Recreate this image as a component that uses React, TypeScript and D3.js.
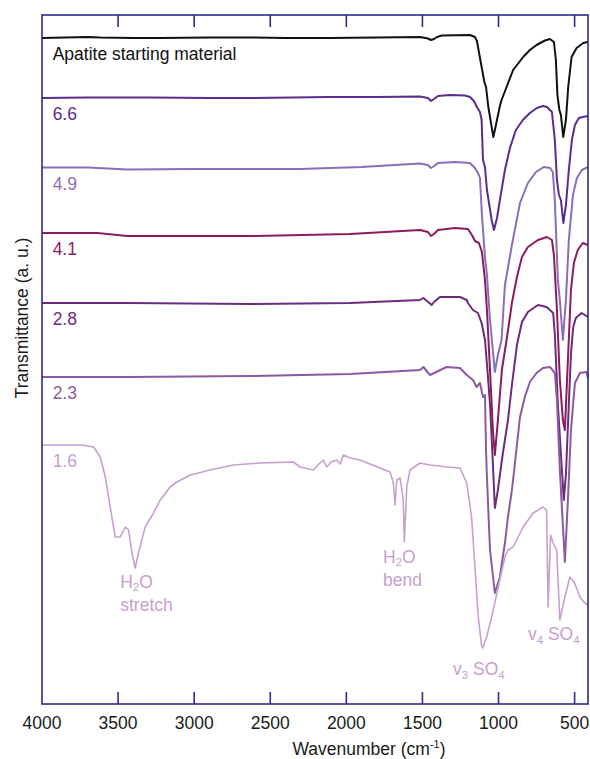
import * as d3 from 'd3';

// wavenumber (cm-1), transmittance (a.u., stacked)
const apatite: [number, number][] = [
  [4000, 666], [3850, 666.5], [3700, 667], [3617, 666.5], [3400, 666], [3223, 666], [2900, 666.5],
  [2632, 666.5], [2400, 666], [2107, 666], [1800, 666.5], [1516, 667], [1464, 665.5], [1444, 664],
  [1424, 665], [1404, 667], [1372, 668.5], [1188, 669], [1155, 667], [1142, 663], [1111, 637],
  [1093, 622], [1082, 617], [1067, 597], [1045, 577], [1034, 567], [1017, 579], [991, 598],
  [980, 604], [947, 617], [904, 634], [838, 647], [794, 654], [750, 659], [695, 663.5], [662, 665],
  [636, 662], [623, 644], [613, 609], [600, 594], [590, 589], [575, 567], [557, 584], [542, 617],
  [520, 647], [487, 656], [443, 661], [413, 662],
];

const ph66: [number, number][] = [
  [4000, 606], [3700, 606.5], [3289, 606.5], [2900, 606], [2632, 606], [2107, 607], [1800, 607],
  [1516, 607.5], [1464, 606], [1444, 603], [1424, 605], [1398, 608], [1319, 609], [1221, 608.5],
  [1188, 607], [1162, 603], [1142, 597], [1122, 592], [1111, 584], [1102, 544], [1089, 537],
  [1076, 514], [1045, 484], [1030, 474], [1010, 486], [991, 504], [958, 534], [925, 556],
  [886, 574], [840, 584], [794, 591], [748, 596], [708, 598], [682, 597], [649, 592], [630, 564],
  [616, 524], [603, 509], [590, 504], [574, 481], [557, 499], [538, 534], [518, 564], [498, 579],
  [472, 586], [446, 587], [413, 588],
];

const ph49: [number, number][] = [
  [4000, 536.5], [3700, 536.5], [3440, 534.5], [3000, 535], [2304, 535], [1900, 537], [1516, 540.5],
  [1464, 539], [1444, 536], [1424, 538], [1398, 541], [1286, 542], [1188, 541], [1155, 536],
  [1135, 531], [1122, 526], [1109, 489], [1089, 447], [1076, 429], [1056, 384], [1024, 332],
  [1004, 349], [980, 364], [958, 419], [912, 459], [859, 501], [807, 521], [754, 532], [702, 537],
  [662, 536], [643, 532], [630, 504], [610, 424], [597, 404], [577, 364], [557, 404], [538, 464],
  [511, 509], [485, 526], [452, 534], [413, 537],
];

const ph41: [number, number][] = [
  [4000, 471], [3637, 471], [3440, 468], [2632, 468], [1976, 470], [1516, 474], [1464, 472],
  [1444, 468], [1424, 470], [1398, 474], [1286, 476], [1201, 475], [1175, 469], [1155, 463],
  [1129, 461], [1109, 452], [1089, 424], [1076, 394], [1056, 334], [1037, 274], [1024, 249],
  [1004, 284], [978, 334], [945, 366], [912, 401], [879, 427], [846, 447], [807, 457], [741, 464],
  [682, 467], [649, 464], [636, 449], [616, 394], [597, 324], [577, 284], [564, 274], [544, 344],
  [524, 414], [505, 441], [479, 454], [446, 461], [413, 459],
];

const ph28: [number, number][] = [
  [4000, 401], [3440, 401], [2632, 400], [1976, 401], [1516, 404], [1494, 406], [1439, 399],
  [1424, 402], [1385, 407], [1253, 407], [1209, 404], [1201, 401], [1168, 394], [1135, 391],
  [1111, 381], [1089, 364], [1076, 340], [1056, 300], [1037, 240], [1024, 196], [1004, 214],
  [978, 244], [938, 284], [912, 319], [879, 359], [846, 382], [807, 392], [741, 399], [684, 397],
  [641, 391], [630, 370], [610, 300], [590, 250], [571, 204], [557, 230], [538, 300], [524, 350],
  [509, 377], [492, 386], [454, 391], [413, 387],
];

const ph23: [number, number][] = [
  [4000, 327], [3440, 327], [2632, 328], [1976, 330], [1516, 334], [1494, 337], [1450, 329],
  [1341, 337], [1253, 336], [1209, 329], [1168, 324], [1144, 317], [1122, 321], [1102, 307],
  [1089, 309], [1082, 254], [1078, 234], [1056, 154], [1024, 111], [991, 127], [958, 161],
  [938, 187], [912, 214], [892, 241], [859, 287], [827, 307], [794, 322], [750, 331], [708, 336],
  [662, 337], [630, 331], [616, 304], [597, 234], [564, 142], [544, 204], [524, 274], [498, 321],
  [465, 331], [422, 332], [413, 326],
];

const ph16: [number, number][] = [
  [4000, 259], [3737, 259], [3661, 257], [3617, 247], [3584, 227], [3552, 197], [3519, 167],
  [3486, 167], [3453, 177], [3431, 174], [3409, 151], [3387, 136], [3366, 151], [3322, 177],
  [3267, 191], [3223, 204], [3158, 217], [3114, 222], [3026, 229], [2895, 234], [2742, 239],
  [2567, 241], [2348, 242], [2304, 237], [2217, 234], [2180, 240], [2151, 244], [2129, 237],
  [2100, 242], [2063, 244], [2040, 240], [2020, 249], [1976, 246], [1910, 244], [1779, 236],
  [1713, 232], [1691, 221], [1680, 199], [1669, 224], [1647, 226], [1626, 204], [1619, 162],
  [1603, 217], [1582, 234], [1516, 241], [1450, 239], [1341, 237], [1253, 236], [1209, 221],
  [1177, 187], [1155, 137], [1133, 87], [1111, 58], [1104, 56], [1078, 67], [1045, 87],
  [1002, 117], [958, 147], [938, 154], [904, 157], [838, 177], [772, 191], [708, 197], [684, 194],
  [674, 97], [658, 169], [641, 161], [618, 154], [597, 84], [564, 107], [531, 127], [500, 121],
  [465, 107], [440, 102], [413, 99],
];

const seriesNames = ['Apatite starting material', '6.6', '4.9', '4.1', '2.8', '2.3', '1.6'];
const seriesData = [apatite, ph66, ph49, ph41, ph28, ph23, ph16];
const seriesColors = ['#111111', '#5a2d8c', '#8a6dbb', '#8c1a5e', '#6d2b7e', '#8b5aa0', '#c6a0ce'];

const xTicks = [4000, 3500, 3000, 2500, 2000, 1500, 1000, 500];

const W = 590;
const H = 759;
const font = '"Liberation Sans", Arial, sans-serif';
const axisColor = '#2e2b88';

export default function App() {
  const x = d3.scaleLinear().domain([4000, 412]).range([42, 588]);
  const y = d3.scaleLinear().domain([0, 689]).range([704, 15]);
  const line = d3.line<[number, number]>()
    .x(d => x(d[0]))
    .y(d => y(d[1]));

  const annoColor = seriesColors[6];

  return (
    <svg width={W} height={H} style={{ position: 'absolute', left: 0, top: 0, background: '#fff' }}
      fontFamily={font}>
      {seriesData.map((d, i) => (
        <path key={seriesNames[i]} d={line(d) || ''} fill="none" stroke={seriesColors[i]}
          strokeWidth={i === 6 ? 1.6 : 2} strokeLinejoin="round" />
      ))}

      {seriesData.map((d, i) => (
        <text key={'lab' + i} x={x(3930)} y={y(d[0][1]) + 22} fontSize={17.5} fill={seriesColors[i]}>
          {seriesNames[i]}
        </text>
      ))}

      {/* band annotations */}
      <g fill={annoColor} fontSize={17.5}>
        <text x={x(3486)} y={y(116)}>
          H<tspan dy={3} fontSize={11.5}>2</tspan><tspan dy={-3}>O</tspan>
        </text>
        <text x={x(3486)} y={y(116) + 23}>stretch</text>
        <text x={x(1759)} y={y(141)}>
          H<tspan dy={3} fontSize={11.5}>2</tspan><tspan dy={-3}>O</tspan>
        </text>
        <text x={x(1759)} y={y(141) + 23}>bend</text>
        <text x={x(1299)} y={y(29)}>
          v<tspan dy={4} fontSize={11.5}>3</tspan><tspan dy={-4}> SO</tspan><tspan dy={4} fontSize={11.5}>4</tspan>
        </text>
        <text x={x(807)} y={y(64)}>
          v<tspan dy={4} fontSize={11.5}>4</tspan><tspan dy={-4}> SO</tspan><tspan dy={4} fontSize={11.5}>4</tspan>
        </text>
      </g>

      {/* frame */}
      <rect x={x(4000)} y={y(689)} width={x(412) - x(4000)} height={y(0) - y(689)}
        fill="none" stroke={axisColor} strokeWidth={1.6} />
      {xTicks.filter(t => t !== 4000).map(t => (
        <g key={t} stroke={axisColor} strokeWidth={1.6}>
          <line x1={x(t)} x2={x(t)} y1={y(0)} y2={y(0) - 12} />
          <line x1={x(t)} x2={x(t)} y1={y(689)} y2={y(689) + 12} />
        </g>
      ))}
      {xTicks.map(t => (
        <text key={'t' + t} x={x(t)} y={729} textAnchor="middle" fontSize={17.5} fill="#1a1a1a">{t}</text>
      ))}

      <text x={369} y={755} textAnchor="middle" fontSize={17.5} fill="#1a1a1a">
        Wavenumber (cm<tspan dy={-7} fontSize={11}>-1</tspan><tspan dy={7}>)</tspan>
      </text>
      <text transform="translate(28,318) rotate(-90)" textAnchor="middle" fontSize={17.5} fill="#1a1a1a">
        Transmittance (a. u.)
      </text>
    </svg>
  );
}
